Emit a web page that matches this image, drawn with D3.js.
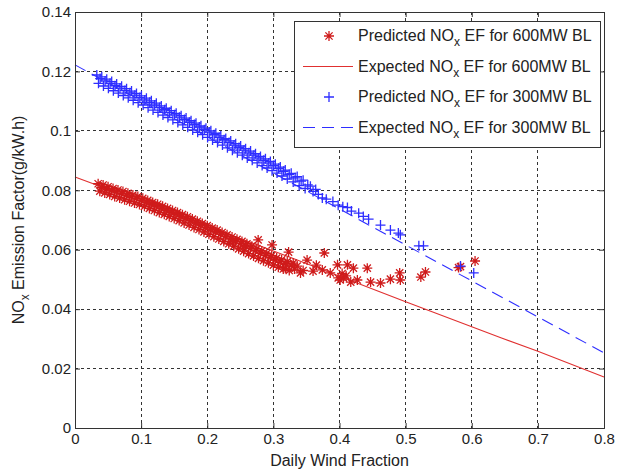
<!DOCTYPE html>
<html>
<head>
<meta charset="utf-8">
<script src="https://cdn.jsdelivr.net/npm/d3@7"></script>
<style>
  body { margin: 0; background: #fff; }
  svg text { font-family: "Liberation Sans", Arial, Helvetica, sans-serif; fill: #222; }
</style>
</head>
<body>
<svg id="chart" width="617" height="475"></svg>
<script>
// --- data ---
const xTicks = [0, 0.1, 0.2, 0.3, 0.4, 0.5, 0.6, 0.7, 0.8];
const yTicks = [0, 0.02, 0.04, 0.06, 0.08, 0.1, 0.12, 0.14];

// expected NOx EF lines
const expected600 = [[0, 0.0845], [0.1, 0.0762], [0.2, 0.0679], [0.3, 0.0596], [0.4, 0.0511],
  [0.5, 0.0425], [0.6, 0.0341], [0.645, 0.0303], [0.7, 0.0258], [0.8, 0.0172]];
const expected300 = [[0, 0.1222], [0.2, 0.0980], [0.4, 0.0737], [0.6, 0.0495], [0.8, 0.0253]];

// predicted NOx EF, 600MW baseload (red stars)
const predicted600 = [
  [0.035,0.0822],[0.0375,0.0797],[0.040,0.0810],[0.0425,0.0818],[0.045,0.0791],[0.0475,0.0805],
  [0.050,0.0812],[0.0525,0.0786],[0.055,0.0800],[0.0575,0.0806],[0.060,0.0779],[0.0625,0.0795],
  [0.065,0.0801],[0.0675,0.0774],[0.070,0.0789],[0.0725,0.0796],[0.075,0.0768],[0.0775,0.0784],
  [0.080,0.0790],[0.0825,0.0763],[0.085,0.0779],[0.0875,0.0784],[0.090,0.0757],[0.0925,0.0773],
  [0.095,0.0779],[0.0975,0.0752],[0.100,0.0767],[0.1025,0.0773],[0.105,0.0746],[0.1075,0.0761],
  [0.110,0.0766],[0.1125,0.0739],[0.115,0.0755],[0.1175,0.0759],[0.120,0.0732],[0.1225,0.0748],
  [0.125,0.0753],[0.1275,0.0725],[0.130,0.0741],[0.1325,0.0746],[0.135,0.0719],[0.1375,0.0734],
  [0.140,0.0739],[0.1425,0.0712],[0.145,0.0727],[0.1475,0.0732],[0.150,0.0705],[0.1525,0.0721],
  [0.155,0.0725],[0.1575,0.0698],[0.160,0.0713],[0.1625,0.0718],[0.165,0.0690],[0.1675,0.0706],
  [0.170,0.0711],[0.1725,0.0683],[0.175,0.0699],[0.1775,0.0703],[0.180,0.0675],[0.1825,0.0691],
  [0.185,0.0696],[0.1875,0.0668],[0.190,0.0684],[0.1925,0.0688],[0.195,0.0660],[0.1975,0.0676],
  [0.200,0.0681],[0.2025,0.0652],[0.205,0.0669],[0.2075,0.0673],[0.210,0.0644],[0.2125,0.0661],
  [0.215,0.0666],[0.2175,0.0636],[0.220,0.0653],[0.2225,0.0658],[0.225,0.0628],[0.2275,0.0645],
  [0.230,0.0650],[0.2325,0.0620],[0.235,0.0637],[0.2375,0.0643],[0.240,0.0612],[0.2425,0.0629],
  [0.245,0.0635],[0.2475,0.0603],[0.250,0.0621],[0.2525,0.0628],[0.255,0.0595],[0.2575,0.0613],
  [0.260,0.0620],[0.2625,0.0587],[0.265,0.0605],[0.2675,0.0612],[0.270,0.0579],[0.2725,0.0597],
  [0.275,0.0604],[0.2775,0.0571],[0.280,0.0589],[0.2825,0.0596],[0.285,0.0563],[0.2875,0.0581],
  [0.290,0.0588],[0.2925,0.0556],[0.295,0.0574],[0.2975,0.0580],[0.300,0.0548],[0.3025,0.0566],
  [0.305,0.0572],[0.3075,0.0541],[0.310,0.0559],[0.3125,0.0566],[0.315,0.0535],[0.318,0.0553],
  [0.321,0.0560],[0.324,0.0530],[0.327,0.0548],[0.330,0.0555],
  [0.239,0.0628],[0.255,0.0609],[0.277,0.0633],[0.298,0.0616],[0.323,0.0592],[0.318,0.0538],
  [0.332,0.0535],[0.336,0.0545],[0.341,0.0522],[0.345,0.0530],[0.351,0.0565],[0.360,0.0528],
  [0.365,0.0548],[0.374,0.0532],[0.377,0.0589],[0.386,0.0522],[0.397,0.0549],[0.398,0.0505],
  [0.401,0.0498],[0.404,0.0520],[0.406,0.0505],[0.410,0.0512],[0.412,0.0549],[0.417,0.0491],
  [0.421,0.0538],[0.427,0.0498],[0.442,0.0538],[0.447,0.0491],[0.462,0.0488],[0.477,0.0501],
  [0.491,0.0522],[0.492,0.0498],[0.523,0.0508],[0.530,0.0525],[0.580,0.0540],[0.583,0.0543],
  [0.605,0.0562]
];

// predicted NOx EF, 300MW baseload (blue pluses)
const predicted300 = [
  [0.0330,0.1188],[0.0355,0.1160],[0.0380,0.1176],[0.0405,0.1182],[0.0430,0.1151],[0.0455,0.1168],
  [0.0480,0.1174],[0.0505,0.1143],[0.0530,0.1160],[0.0555,0.1166],[0.0580,0.1135],[0.0605,0.1152],
  [0.0630,0.1158],[0.0655,0.1127],[0.0680,0.1144],[0.0705,0.1150],[0.0730,0.1119],[0.0755,0.1136],
  [0.0780,0.1142],[0.0805,0.1111],[0.0830,0.1128],[0.0855,0.1134],[0.0880,0.1103],[0.0905,0.1120],
  [0.0930,0.1126],[0.0955,0.1095],[0.0980,0.1112],[0.1005,0.1118],[0.1030,0.1087],[0.1055,0.1104],
  [0.1080,0.1110],[0.1105,0.1078],[0.1130,0.1096],[0.1155,0.1101],[0.1180,0.1070],[0.1205,0.1087],
  [0.1230,0.1093],[0.1255,0.1062],[0.1280,0.1079],[0.1305,0.1084],[0.1330,0.1053],[0.1355,0.1071],
  [0.1380,0.1076],[0.1405,0.1045],[0.1430,0.1062],[0.1455,0.1068],[0.1480,0.1037],[0.1505,0.1054],
  [0.1530,0.1059],[0.1555,0.1028],[0.1580,0.1046],[0.1605,0.1051],[0.1630,0.1020],[0.1655,0.1038],
  [0.1680,0.1043],[0.1705,0.1012],[0.1730,0.1029],[0.1755,0.1034],[0.1780,0.1003],[0.1805,0.1021],
  [0.1830,0.1026],[0.1855,0.0995],[0.1880,0.1013],[0.1905,0.1017],[0.1930,0.0987],[0.1955,0.1004],
  [0.1980,0.1009],[0.2005,0.0978],[0.2030,0.0996],[0.2055,0.1000],[0.2080,0.0969],[0.2105,0.0987],
  [0.2130,0.0992],[0.2155,0.0961],[0.2180,0.0978],[0.2205,0.0983],[0.2230,0.0952],[0.2255,0.0970],
  [0.2280,0.0974],[0.2305,0.0943],[0.2330,0.0961],[0.2355,0.0966],[0.2380,0.0935],[0.2405,0.0952],
  [0.2430,0.0957],[0.2455,0.0926],[0.2480,0.0944],[0.2505,0.0949],[0.2530,0.0918],[0.2555,0.0935],
  [0.2580,0.0940],[0.2605,0.0909],[0.2630,0.0926],[0.2655,0.0932],[0.2680,0.0901],[0.2705,0.0918],
  [0.2730,0.0923],[0.2755,0.0892],[0.2780,0.0909],[0.2805,0.0914],[0.2830,0.0883],[0.2855,0.0901],
  [0.2880,0.0906],[0.2905,0.0875],[0.2930,0.0892],[0.2955,0.0897],[0.2980,0.0866],[0.3005,0.0883],
  [0.3030,0.0888],[0.3055,0.0858],[0.3080,0.0874],[0.3105,0.0878],[0.3130,0.0848],[0.3155,0.0864],
  [0.3180,0.0868],[0.3210,0.0838],[0.3240,0.0853],[0.3270,0.0857],[0.3300,0.0828],[0.3330,0.0842],
  [0.3360,0.0846],[0.3390,0.0816],[0.3420,0.0831],[0.3450,0.0834],[0.3480,0.0806],[0.3520,0.0818],
  [0.3560,0.0814],[0.3600,0.0796],[0.3640,0.0803],[0.3680,0.0786],
  [0.374,0.0774],[0.380,0.0770],[0.390,0.0762],[0.398,0.0750],[0.405,0.0745],[0.412,0.0742],
  [0.418,0.0730],[0.429,0.0723],[0.436,0.0712],[0.444,0.0703],[0.462,0.0683],[0.477,0.0666],
  [0.489,0.0656],[0.492,0.0650],[0.520,0.0613],[0.527,0.0613],[0.583,0.0545],[0.603,0.0522]
];

const legendItems = [
  { label: "Predicted NO", tail: " EF for 600MW BL", kind: "star" },
  { label: "Expected NO",  tail: " EF for 600MW BL", kind: "solid" },
  { label: "Predicted NO", tail: " EF for 300MW BL", kind: "plus" },
  { label: "Expected NO",  tail: " EF for 300MW BL", kind: "dash" }
];

// --- layout ---
const red = "#cf1b1b", redLine = "#e03030", blue = "#2e2eff";
const margin = { top: 12, right: 13, bottom: 47, left: 75 };
const W = 617, H = 475;
const plotW = W - margin.left - margin.right;
const plotH = H - margin.top - margin.bottom;

const svg = d3.select("#chart");
const g = svg.append("g").attr("transform", `translate(${margin.left},${margin.top})`);

const x = d3.scaleLinear().domain([0, 0.8]).range([0, plotW]);
const y = d3.scaleLinear().domain([0, 0.14]).range([plotH, 0]);
const fmt = d => d === 0 ? "0" : String(+d.toFixed(2));

// grid (dotted)
g.append("g").selectAll("line").data(xTicks.slice(1, -1)).join("line")
  .attr("x1", d => x(d)).attr("x2", d => x(d)).attr("y1", 0).attr("y2", plotH)
  .attr("stroke", "#333").attr("stroke-dasharray", "3,3").attr("shape-rendering", "crispEdges");
g.append("g").selectAll("line").data(yTicks.slice(1, -1)).join("line")
  .attr("y1", d => y(d)).attr("y2", d => y(d)).attr("x1", 0).attr("x2", plotW)
  .attr("stroke", "#333").attr("stroke-dasharray", "3,3").attr("shape-rendering", "crispEdges");

// expected lines
const line = d3.line().x(d => x(d[0])).y(d => y(d[1]));
g.append("path").datum(expected600).attr("d", line)
  .attr("fill", "none").attr("stroke", redLine).attr("stroke-width", 1.1);

g.append("path").datum(expected300).attr("d", line)
  .attr("fill", "none").attr("stroke", blue).attr("stroke-width", 1.1)
  .attr("stroke-dasharray", "12,7");

// markers
const starPath = "M-5,0H5M0,-5V5M-3.6,-3.6L3.6,3.6M-3.6,3.6L3.6,-3.6";
const plusPath = "M-5,0H5M0,-5V5";

g.append("g").selectAll("path").data(predicted600).join("path")
  .attr("transform", d => `translate(${x(d[0])},${y(d[1])})`)
  .attr("d", starPath).attr("stroke", red).attr("stroke-width", 1.3).attr("fill", "none");

g.append("g").selectAll("path").data(predicted300).join("path")
  .attr("transform", d => `translate(${x(d[0])},${y(d[1])})`)
  .attr("d", plusPath).attr("stroke", blue).attr("stroke-width", 1.3).attr("fill", "none");

// axes with inward ticks
g.append("g").attr("transform", `translate(0,${plotH})`)
  .call(d3.axisBottom(x).tickValues(xTicks).tickFormat(fmt).tickSize(-5).tickPadding(5));
g.append("g")
  .call(d3.axisLeft(y).tickValues(yTicks).tickFormat(fmt).tickSize(-5).tickPadding(4));
g.append("g").call(d3.axisTop(x).tickValues(xTicks).tickFormat("").tickSize(-5));
g.append("g").attr("transform", `translate(${plotW},0)`)
  .call(d3.axisRight(y).tickValues(yTicks).tickFormat("").tickSize(-5));
g.selectAll(".domain, .tick line").attr("stroke", "#333");
g.selectAll(".tick text").attr("font-size", 15).attr("fill", "#222")
  .style("font-family", "'Liberation Sans', Arial, sans-serif");

// axis titles
svg.append("text").attr("x", margin.left + plotW / 2).attr("y", 466)
  .attr("text-anchor", "middle").attr("font-size", 16).text("Daily Wind Fraction");

const yTitle = svg.append("text")
  .attr("transform", `translate(24,${margin.top + plotH / 2}) rotate(-90)`)
  .attr("text-anchor", "middle").attr("font-size", 16);
yTitle.append("tspan").text("NO");
yTitle.append("tspan").attr("font-size", 12).attr("dy", 5).text("x");
yTitle.append("tspan").attr("dy", -5).text(" Emission Factor(g/kW.h)");

// legend
const lg = svg.append("g").attr("transform", "translate(294,21)");
lg.append("rect").attr("width", 306).attr("height", 126)
  .attr("fill", "#fff").attr("stroke", "#333").attr("shape-rendering", "crispEdges");

const rows = lg.selectAll(".row").data(legendItems).join("g")
  .attr("class", "row")
  .attr("transform", (d, i) => `translate(0,${15 + i * 30.5})`);

rows.each(function (d) {
  const r = d3.select(this);
  if (d.kind === "star") r.append("path").attr("d", starPath).attr("transform", "translate(35,0)")
    .attr("stroke", red).attr("stroke-width", 1.3).attr("fill", "none");
  if (d.kind === "plus") r.append("path").attr("d", plusPath).attr("transform", "translate(35,0)")
    .attr("stroke", blue).attr("stroke-width", 1.3).attr("fill", "none");
  if (d.kind === "solid") r.append("line").attr("x1", 9).attr("x2", 59)
    .attr("stroke", redLine).attr("stroke-width", 1.1);
  if (d.kind === "dash") r.append("line").attr("x1", 9).attr("x2", 59)
    .attr("stroke", blue).attr("stroke-width", 1.1).attr("stroke-dasharray", "12,7");
  const t = r.append("text").attr("x", 64).attr("y", 5).attr("font-size", 16);
  t.append("tspan").text(d.label);
  t.append("tspan").attr("font-size", 12).attr("dy", 5).text("x");
  t.append("tspan").attr("dy", -5).text(d.tail);
});
</script>
</body>
</html>
